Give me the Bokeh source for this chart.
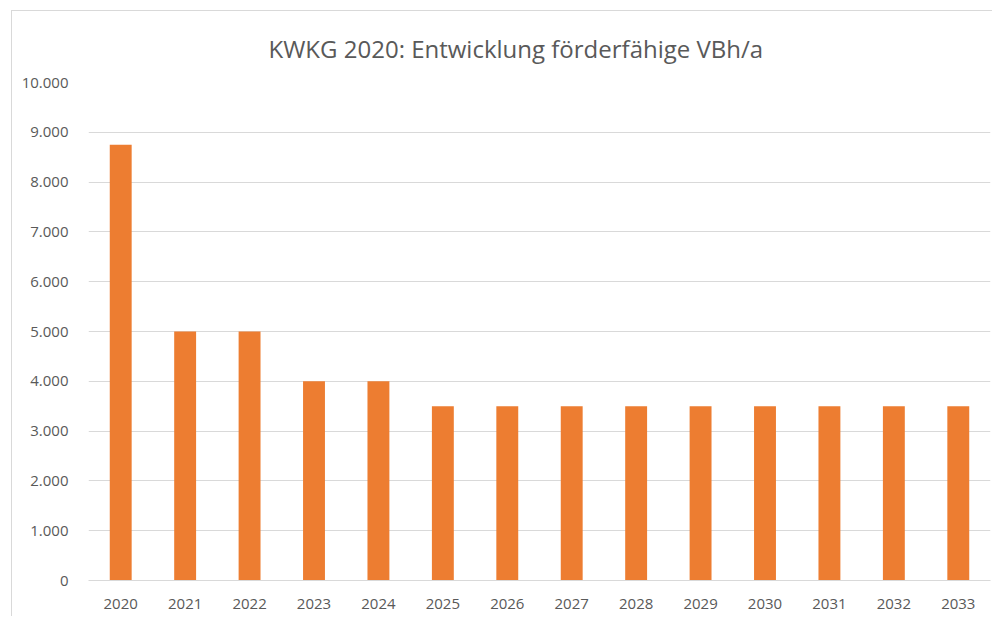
from bokeh.plotting import figure
from bokeh.models import FactorRange, FixedTicker
from bokeh.embed import file_html
from bokeh.resources import INLINE

years = ["2020", "2021", "2022", "2023", "2024", "2025", "2026", "2027",
         "2028", "2029", "2030", "2031", "2032", "2033"]
vbh = [8750, 5000, 5000, 4000, 4000, 3500, 3500, 3500, 3500, 3500, 3500, 3500, 3500, 3500]
y_ticks = [0, 1000, 2000, 3000, 4000, 5000, 6000, 7000, 8000, 9000, 10000]
y_tick_labels = ["0", "1.000", "2.000", "3.000", "4.000", "5.000", "6.000",
                 "7.000", "8.000", "9.000", "10.000"]

TXT = "#595959"
FONT = "Open Sans"

p = figure(width=981, height=606, x_range=FactorRange(*years, range_padding=0),
           y_range=(0, 10000), output_backend="svg", toolbar_location=None,
           min_border_left=76, min_border_right=3, min_border_top=70,
           min_border_bottom=37)
p.styles = {"border-top": "1px solid #D9D9D9", "border-left": "1px solid #D9D9D9",
            "margin-left": "11px", "margin-top": "10px"}

p.vbar(x=years, top=vbh, width=0.34, fill_color="#ED7D31", line_color=None)

p.title.text = "KWKG 2020: Entwicklung förderfähige VBh/a"
p.title.text_font = FONT
p.title.text_font_size = "24px"
p.title.text_font_style = "normal"
p.title.text_color = TXT
p.title.align = "left"
p.title.offset = 180
p.title.standoff = 36

p.outline_line_color = None
p.xgrid.grid_line_color = None
p.ygrid.grid_line_color = "#D9D9D9"
p.ygrid.grid_line_width = 1

p.yaxis.ticker = FixedTicker(ticks=y_ticks)
p.yaxis.major_label_overrides = dict(zip(y_ticks, y_tick_labels))
p.yaxis.axis_line_color = None
p.yaxis.major_tick_line_color = None
p.yaxis.minor_tick_line_color = None
p.yaxis.major_label_standoff = 14
p.yaxis.major_label_text_font = FONT
p.yaxis.major_label_text_font_size = "15px"
p.yaxis.major_label_text_color = TXT

p.xaxis.axis_line_color = "#D9D9D9"
p.xaxis.major_tick_line_color = None
p.xaxis.minor_tick_line_color = None
p.xaxis.major_label_standoff = 12
p.xaxis.major_label_text_font = FONT
p.xaxis.major_label_text_font_size = "15px"
p.xaxis.major_label_text_color = TXT

p.background_fill_color = "white"
p.border_fill_color = "white"

open("out.html", "w").write(file_html(p, INLINE))
